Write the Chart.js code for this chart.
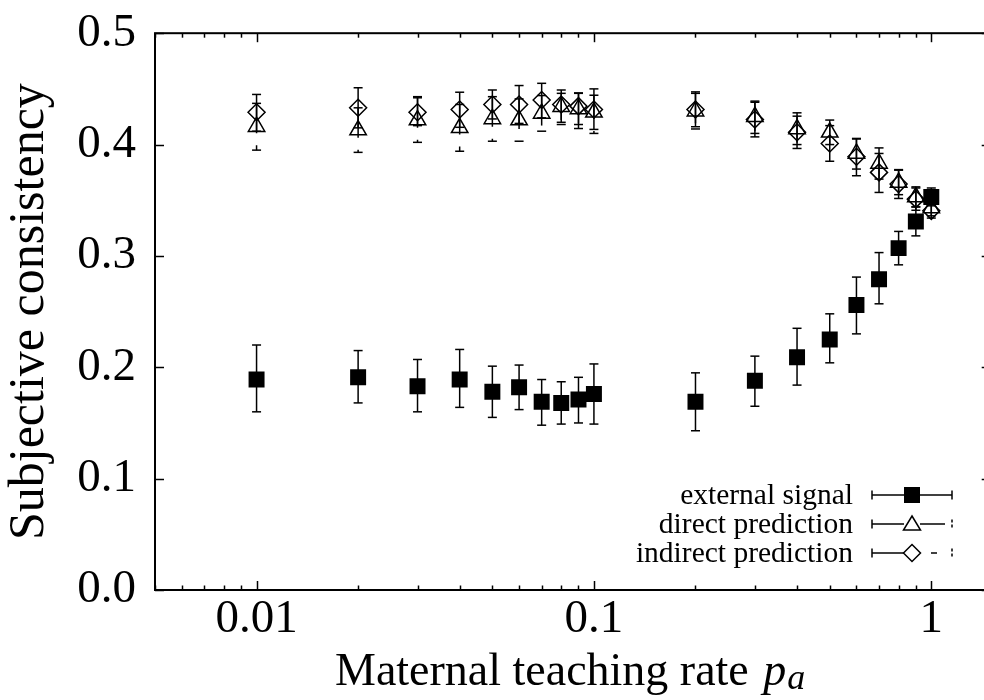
<!DOCTYPE html>
<html><head><meta charset="utf-8">
<script src="https://cdn.jsdelivr.net/npm/chart.js@4.4.1/dist/chart.umd.min.js"></script>
<style>
html,body{margin:0;padding:0;background:#fff;overflow:hidden;}
#wrap{position:relative;width:1002px;height:700px;}
</style></head><body>
<div id="wrap"><canvas id="c" width="1002" height="700"></canvas></div>
<script>
// ---- data ----
const rates = [0.01,0.02,0.03,0.04,0.05,0.06,0.07,0.08,0.09,0.1,0.2,0.3,0.4,0.5,0.6,0.7,0.8,0.9,1.0];

const externalSignal = [0.189,0.191,0.183,0.189,0.178,0.182,0.169,0.168,0.171,0.176,0.169,0.188,0.209,0.225,0.256,0.279,0.307,0.331,0.353];
const externalLow    = [0.160,0.168,0.160,0.164,0.155,0.162,0.148,0.149,0.150,0.149,0.143,0.165,0.184,0.204,0.230,0.257,0.292,0.318,0.345];
const externalHigh   = [0.220,0.215,0.207,0.216,0.201,0.202,0.189,0.187,0.191,0.203,0.195,0.210,0.235,0.248,0.281,0.303,0.322,0.344,0.361];

const directPrediction = [0.416,0.413,0.422,0.415,0.423,0.422,0.428,0.434,0.432,0.429,0.430,0.425,0.414,0.411,0.392,0.383,0.366,0.353,0.343];
const directLow        = [0.395,0.393,0.402,0.394,0.403,0.403,0.412,0.418,0.418,0.410,0.414,0.410,0.400,0.400,0.378,0.369,0.355,0.344,0.336];
const directHigh       = [0.437,0.433,0.442,0.436,0.443,0.441,0.444,0.449,0.446,0.450,0.446,0.439,0.4285,0.422,0.4055,0.397,0.377,0.362,0.350];

const indirectPrediction = [0.429,0.433,0.429,0.4315,0.436,0.436,0.440,0.436,0.4345,0.4315,0.4315,0.4225,0.411,0.401,0.389,0.375,0.3645,0.351,0.3405];
const indirectLow        = [0.412,0.415,0.417,0.4155,0.423,0.419,0.424,0.420,0.4144,0.4136,0.416,0.4069,0.3965,0.385,0.372,0.357,0.3516,0.341,0.334];
const indirectHigh       = [0.445,0.451,0.443,0.447,0.449,0.453,0.455,0.446,0.4464,0.4443,0.4473,0.438,0.4255,0.417,0.405,0.392,0.3775,0.361,0.347];

const seriesLabels = ['external signal','direct prediction','indirect prediction'];
const xMajorTicks = [0.01, 0.1, 1];
const xMajorLabels = ['0.01','0.1','1'];
const yTicks = [0, 0.1, 0.2, 0.3, 0.4, 0.5];
const xTitle = 'Maternal teaching rate';
const xTitleVar = 'p';
const xTitleSub = 'a';
const yTitle = 'Subjective consistency';

// ---- helpers ----
const FONT = "'Liberation Serif','Times New Roman',serif";
const pts = (ys) => rates.map((r, i) => ({x: r, y: ys[i]}));
const xTickValues = [];
[0.001, 0.01, 0.1, 1].forEach(d => {
  for (let m = 1; m <= 9; m++) {
    const v = parseFloat((m * d).toPrecision(6));
    if (v >= 0.005 && v <= 1.5) xTickValues.push(v);
  }
});
const majorIndex = v => xMajorTicks.findIndex(t => Math.abs(v - t) / t < 1e-6);

function line(ctx, x1, y1, x2, y2) { ctx.beginPath(); ctx.moveTo(x1, y1); ctx.lineTo(x2, y2); ctx.stroke(); }

function marker(ctx, style, x, y) {
  ctx.save();
  ctx.lineWidth = 1.5; ctx.strokeStyle = '#000'; ctx.fillStyle = '#000';
  ctx.beginPath();
  if (style === 'rect') { ctx.fillRect(x - 8, y - 8, 16, 16); }
  else if (style === 'triangle') { ctx.moveTo(x, y - 8); ctx.lineTo(x + 8.5, y + 6); ctx.lineTo(x - 8.5, y + 6); ctx.closePath(); ctx.stroke(); }
  else { ctx.moveTo(x, y - 8.5); ctx.lineTo(x + 8.5, y); ctx.lineTo(x, y + 8.5); ctx.lineTo(x - 8.5, y); ctx.closePath(); ctx.stroke(); }
  ctx.restore();
}

const errorBars = {
  id: 'errorBars',
  beforeDatasetsDraw(chart) {
    const {ctx, scales: {x, y}} = chart;
    ctx.save();
    ctx.strokeStyle = '#000';
    ctx.lineWidth = 1.5;
    chart.data.datasets.forEach(ds => {
      ds.data.forEach((p, i) => {
        const px = x.getPixelForValue(p.x);
        const pl = y.getPixelForValue(ds.errLow[i]);
        const ph = y.getPixelForValue(ds.errHigh[i]);
        ctx.setLineDash(ds.barDash || []);
        line(ctx, px, ph, px, pl);
        ctx.setLineDash([]);
        line(ctx, px - 4.5, pl, px + 4.5, pl);
        line(ctx, px - 4.5, ph, px + 4.5, ph);
      });
    });
    ctx.restore();
  }
};

const frame = {
  id: 'frame',
  afterDraw(chart) {
    const {ctx, chartArea: {left, right, top, bottom}, scales: {x, y}} = chart;
    ctx.save();
    ctx.strokeStyle = '#000';
    ctx.lineWidth = 2;
    ctx.strokeRect(left, top, right - left, bottom - top);
    ctx.lineWidth = 1.5;
    y.ticks.forEach(t => {
      const py = Math.round(y.getPixelForValue(t.value)) + 0.5;
      line(ctx, left, py, left + 9, py);
      line(ctx, right, py, right - 9, py);
    });
    x.ticks.forEach(t => {
      const px = Math.round(x.getPixelForValue(t.value)) + 0.5;
      const L = majorIndex(t.value) >= 0 ? 9 : 4.5;
      line(ctx, px, bottom, px, bottom - L);
      line(ctx, px, top, px, top + L);
    });
    // x axis title with italic variable and subscript
    ctx.fillStyle = '#000';
    ctx.textBaseline = 'alphabetic';
    ctx.textAlign = 'left';
    let tx = 335;
    const ty = bottom + 95;
    ctx.font = '46px ' + FONT;
    ctx.fillText(xTitle, tx, ty);
    tx += ctx.measureText(xTitle + ' ').width + 3;
    ctx.font = 'italic 46px ' + FONT;
    ctx.fillText(xTitleVar, tx, ty);
    tx += ctx.measureText(xTitleVar).width + 1;
    ctx.font = 'italic 36px ' + FONT;
    ctx.fillText(xTitleSub, tx, ty + 4);
    ctx.restore();
  }
};

const keyBox = {
  id: 'keyBox',
  afterDraw(chart) {
    const {ctx} = chart;
    const rows = [495, 524, 553];
    const styles = ['rect', 'triangle', 'rectRot'];
    const x1 = 872, x2 = 952, xm = 912;
    ctx.save();
    ctx.fillStyle = '#000';
    ctx.strokeStyle = '#000';
    ctx.font = '29.5px ' + FONT;
    ctx.textAlign = 'right';
    ctx.textBaseline = 'middle';
    chart.data.datasets.forEach((ds, k) => {
      const yy = rows[k];
      ctx.fillText(ds.label, 853, yy + 1);
      ctx.lineWidth = 1.5;
      if (k === 0) {
        line(ctx, x1, yy, x2, yy);
      } else if (k === 1) {
        line(ctx, x1, yy, xm - 8, yy);
        line(ctx, xm + 8, yy, x2 - 7, yy);
      } else {
        line(ctx, x1, yy, xm - 8, yy);
        line(ctx, xm + 19, yy, xm + 25, yy);
      }
      if (k === 0) {
        line(ctx, x1, yy - 4.5, x1, yy + 4.5);
        line(ctx, x2, yy - 4.5, x2, yy + 4.5);
      } else {
        line(ctx, x1, yy - 4.5, x1, yy + 4.5);
        ctx.setLineDash([3, 2]);
        line(ctx, x2, yy - 4.5, x2, yy + 4.5);
        ctx.setLineDash([]);
      }
      marker(ctx, styles[k], xm, yy);
    });
    ctx.restore();
  }
};

const chart = new Chart(document.getElementById('c'), {
  type: 'scatter',
  data: {
    datasets: [
      {label: seriesLabels[0], data: pts(externalSignal), errLow: externalLow, errHigh: externalHigh,
       pointStyle: 'rect', pointRadius: 11.3, backgroundColor: '#000', borderColor: '#000', borderWidth: 0, order: 3},
      {label: seriesLabels[1], data: pts(directPrediction), errLow: directLow, errHigh: directHigh, barDash: [30, 12],
       pointStyle: 'triangle', pointRadius: 9.5, backgroundColor: 'rgba(0,0,0,0)', borderColor: '#000', borderWidth: 1.5, order: 2},
      {label: seriesLabels[2], data: pts(indirectPrediction), errLow: indirectLow, errHigh: indirectHigh,
       pointStyle: 'rectRot', pointRadius: 8.5, backgroundColor: 'rgba(0,0,0,0)', borderColor: '#000', borderWidth: 1.5, order: 1}
    ]
  },
  options: {
    responsive: false,
    animation: false,
    devicePixelRatio: 1,
    layout: {padding: {top: 33, right: 2, left: 0, bottom: 0}},
    plugins: {legend: {display: false}, tooltip: {enabled: false}},
    elements: {point: {hoverRadius: 0}},
    scales: {
      x: {
        type: 'logarithmic', min: 0.005, max: 1.5,
        afterBuildTicks: s => { s.ticks = xTickValues.map(v => ({value: v})); },
        afterFit: s => { s.height = 110; },
        grid: {display: false, drawTicks: false},
        border: {display: false},
        ticks: {
          autoSkip: false, maxRotation: 0, minRotation: 0, padding: 1,
          color: '#000', font: {family: FONT, size: 47},
          callback: v => { const i = majorIndex(v); return i >= 0 ? xMajorLabels[i] : ''; }
        }
      },
      y: {
        type: 'linear', min: 0, max: 0.5,
        afterBuildTicks: s => { s.ticks = yTicks.map(v => ({value: v})); },
        afterFit: s => { s.width = 155; },
        grid: {display: false, drawTicks: true, tickLength: 14},
        border: {display: false},
        ticks: {padding: 5, color: '#000', font: {family: FONT, size: 47}, callback: v => Number(v).toFixed(1)},
        title: {display: true, text: yTitle, color: '#000', font: {family: FONT, size: 50}, padding: {top: 0, bottom: 0}}
      }
    }
  },
  plugins: [errorBars, frame, keyBox]
});
</script>
</body></html>
